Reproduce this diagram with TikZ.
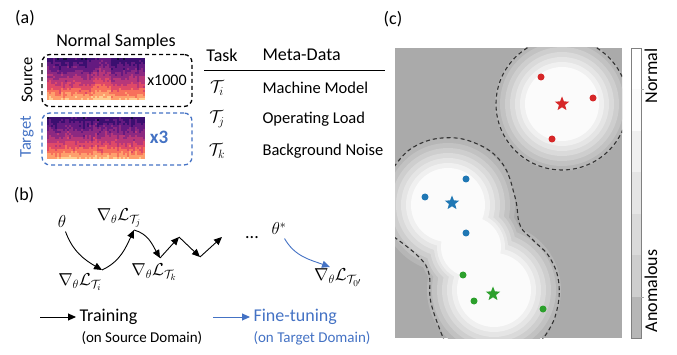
\documentclass[tikz,border=0pt]{standalone}
\usepackage{fontspec}
\setmainfont{Carlito}
\usetikzlibrary{calc,arrows.meta,shapes.geometric}
\definecolor{tblue}{RGB}{68,114,196}
\definecolor{pred}{RGB}{214,39,40}
\definecolor{pblue}{RGB}{31,119,180}
\definecolor{pgreen}{RGB}{44,160,44}
\definecolor{bggray}{HTML}{AAAAAA}
\definecolor{g1}{HTML}{B6B6B6}
\definecolor{g2}{HTML}{C2C2C2}
\definecolor{g3}{HTML}{CECECE}
\definecolor{g4}{HTML}{DADADA}
\definecolor{g5}{HTML}{E5E5E5}
\definecolor{g6}{HTML}{F0F0F0}
\definecolor{g7}{HTML}{FBFBFB}
\definecolor{mg1}{HTML}{140E36}
\definecolor{mg2}{HTML}{3B0F70}
\definecolor{mg3}{HTML}{641A80}
\definecolor{mg4}{HTML}{8C2981}
\definecolor{mg5}{HTML}{B73779}
\definecolor{mg6}{HTML}{DE4968}
\definecolor{mg7}{HTML}{F7705C}
\definecolor{mg8}{HTML}{FE9F6D}
\definecolor{mg9}{HTML}{FECF92}
\newcommand{\fs}[1]{\fontsize{#1}{#1}\selectfont}
% spectrogram: corner x, corner y, seed, bright columns from, to
\newcommand{\specgram}[5]{%
  \pgfmathsetseed{#3}
  \foreach \ci in {0,...,48}{
    \pgfmathsetmacro{\colv}{0.08*rnd+0.07*and(\ci>=#4,\ci<=#5)}
    \foreach \ri in {0,...,20}{
      \pgfmathsetmacro{\lev}{0.11+0.42*\ri/20+0.22*\ri*\ri/400+\colv+0.1*rnd}
      \pgfmathtruncatemacro{\idx}{min(9,max(1,round(\lev*10)))}
      \fill[mg\idx] ({#1+2*\ci},{#2+2*\ri}) rectangle ++(2.1,2.1);
    }
  }
}

\begin{document}
\begin{tikzpicture}[x=1pt,y=-1pt,
  every node/.append style={font=\fs{18}},
  grad/.style={-{Triangle[length=8pt,width=7pt]}, line width=0.9pt},
  ftune/.style={grad, draw=tblue},
  samplebox/.style={draw, dash pattern=on 4pt off 3pt, line width=1.3pt, rounded corners=8pt, minimum width=150pt, minimum height=52pt},
  contour/.style={dash pattern=on 4pt off 3pt, line width=1.1pt, black!80},
  pdot/.style={circle, inner sep=0pt, minimum size=7pt},
  pstar/.style={star, star points=5, star point ratio=2.3, inner sep=0pt, minimum size=15pt}]
  % Parameters
  \def\W{677}
  \def\H{355}
  \useasboundingbox (0,0) rectangle (\W,\H);

  % (a) normal samples
  \node (lbla) at (25,18) {(a)};
  \node (normal) at (116,42) {Normal Samples};
  \specgram{47}{58}{7}{23}{31}
  \specgram{47}{117}{3}{23}{24}
  \node[samplebox] (srcbox) at (117,80.5) {};
  \node[samplebox, draw=tblue] (tgtbox) at (117,139) {};
  \node[rotate=90, font=\fs{16.5}] (srclab) at (27,80) {Source};
  \node[rotate=90, font=\fs{16.5}, text=tblue] (tgtlab) at (27,137) {Target};
  \node[font=\fs{16}] (x1000) at (167,80) {x1000};
  \node[font=\fs{19}\bfseries, text=tblue] (x3) at (159,137) {x3};

  % task table
  \node (task) at (222,55) {Task};
  \node[anchor=west] (meta) at (259,55) {Meta-Data};
  \coordinate (ruleL) at (204,71);
  \coordinate (ruleR) at (385,71);
  \draw[line width=1pt] (ruleL) -- (ruleR);
  \foreach \nm/\t/\txt/\y in {ti/i/Machine Model/88, tj/j/Operating Load/119, tk/k/Background Noise/151}{
    \node[font=\fs{16.5}] (\nm) at (217,\y) {$\mathcal{T}_\t$};
    \node[font=\fs{16.5}, anchor=west] (m\nm) at (259,\y) {\txt};
  }

  % (b) gradient steps
  \node (lblb) at (24,195) {(b)};
  \node (theta) at (62,222) {$\theta$};
  \coordinate (g1) at (102,270);
  \coordinate (g2) at (134,230);
  \coordinate (g3) at (160,258);
  \coordinate (g4) at (179,237);
  \coordinate (g5) at (200,257);
  \coordinate (g6) at (222,237);
  \node (dots) at (252,238) {...};
  \node (thetastar) at (279,229) {$\theta^*$};
  \coordinate (g7) at (330,267);

  \draw[grad] (theta) to[out=-70,in=150] (g1);
  \draw[grad] (g1) to[out=25,in=-115] (g2);
  \draw[grad] (g2) to[out=-15,in=120] (g3);
  \draw[grad] (g3) -- (g4);
  \draw[grad] (g4) -- (g5);
  \draw[grad] (g5) -- (g6);
  \draw[ftune] (thetastar) to[out=-60,in=160] (g7);

  \node (lgi) at ($(g1)+(-22,12)$) {$\nabla_\theta\mathcal{L}_{\mathcal{T}_i}$};
  \node (lgj) at ($(g2)+(-15,-12)$) {$\nabla_\theta\mathcal{L}_{\mathcal{T}_j}$};
  \node (lgk) at ($(g3)+(-6,14)$) {$\nabla_\theta\mathcal{L}_{\mathcal{T}_k}$};
  \node (lgo) at ($(g7)+(8,11)$) {$\nabla_\theta\mathcal{L}_{\mathcal{T}_{0'}}$};

  % legend
  \coordinate (trA) at (40,317);
  \node[anchor=west] (train) at (76,317) {Training};
  \node[anchor=west, font=\fs{15}] (trainsub) at (78,338) {(on Source Domain)};
  \draw[grad] (trA) -- (train);
  \coordinate (ftA) at (213,317);
  \node[anchor=west, text=tblue] (fine) at (250,317) {Fine-tuning};
  \node[anchor=west, font=\fs{15}, text=tblue] (finesub) at (250,338) {(on Target Domain)};
  \draw[ftune] (ftA) -- (fine);

  % (c) normality map
  \node (lblc) at (393,19) {(c)};
  \begin{scope}
    \clip (395,48) rectangle (622,338);
    \fill[bggray] (395,48) rectangle (622,338);
    \foreach \r/\m/\sh in {67/52/g1, 62/48/g2, 57/45/g3, 52/41/g4, 47/37/g5, 42/34/g6, 37/30/g7}{
      \fill[\sh] (562,104) circle[radius=\r pt];
      \fill[\sh] (448,205) circle[radius=\r pt] (494,290) circle[radius=\r pt] (471,247) circle[radius=\m pt];
    }
    \draw[contour] (562,104) circle[radius=66pt];
    \draw[contour] plot[smooth, tension=0.7] coordinates {(394,167) (412,148) (442,138) (475,143) (502,163) (515,197) (520,225) (533,240) (550,258) (559,285) (555,317) (542,340)};
    \draw[contour] plot[smooth, tension=0.7] coordinates {(394,237) (419,257) (429,274) (431,303) (444,340)};
  \end{scope}

  \node[pdot, fill=pred] (r1) at (541,77) {};
  \node[pdot, fill=pred] (r2) at (593,98) {};
  \node[pdot, fill=pred] (r3) at (552,139) {};
  \node[pstar, fill=pred] (rs) at (562,104) {};
  \node[pdot, fill=pblue] (b1) at (466,179) {};
  \node[pdot, fill=pblue] (b2) at (425,197) {};
  \node[pdot, fill=pblue] (b3) at (466,233) {};
  \node[pstar, fill=pblue] (bs) at (452,203) {};
  \node[pdot, fill=pgreen] (e1) at (463,275) {};
  \node[pdot, fill=pgreen] (e2) at (474,301) {};
  \node[pdot, fill=pgreen] (e3) at (543,309) {};
  \node[pstar, fill=pgreen] (es) at (493,294) {};

  % colour bar
  \foreach \i/\sh in {0/white, 1/g7, 2/g6, 3/g5, 4/g4, 5/g3, 6/g1}
    \fill[\sh] (631,{48+41.43*\i}) rectangle (641,{48+41.43*(\i+1)});
  \draw[gray, line width=0.8pt] (631,48) rectangle (641,338);
  \draw[gray!70] (641,89) -- (644,89) (641,297) -- (644,297);
  \node[rotate=90] (cbtop) at (651,76) {Normal};
  \node[rotate=90] (cbbot) at (651,291) {Anomalous};
\end{tikzpicture}
\end{document}
